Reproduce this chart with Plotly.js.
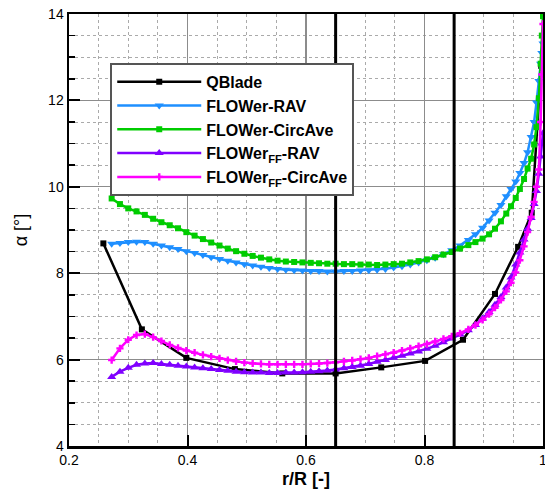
<!DOCTYPE html>
<html>
<head>
<meta charset="utf-8">
<script src="https://cdn.plot.ly/plotly-3.0.1.min.js"></script>
<style>html,body{margin:0;padding:0;background:#fff;}#chart{width:545px;height:489px;}</style>
</head>
<body>
<div id="chart"></div>
<script>
// QBlade stations and angle of attack
const rQBlade = [0.258, 0.323, 0.398, 0.480, 0.560, 0.650, 0.727, 0.801, 0.865, 0.919, 0.958, 0.981, 0.997];
const aQBlade = [8.69, 6.70, 6.04, 5.78, 5.68, 5.68, 5.82, 5.97, 6.46, 7.52, 8.61, 9.40, 12.8];

// FLOWer radial stations (shared)
const rFlower = [0.272,0.286,0.300,0.314,0.328,0.342,0.356,0.370,0.384,0.398,0.412,0.426,0.440,0.454,0.468,0.482,0.496,0.510,0.524,0.538,0.552,0.566,0.580,0.594,0.608,0.622,0.636,0.650,0.664,0.678,0.692,0.706,0.720,0.734,0.748,0.762,0.776,0.790,0.804,0.818,0.832,0.846,0.860,0.874,0.886,0.898,0.909,0.919,0.929,0.938,0.946,0.954,0.961,0.968,0.974,0.980,0.985,0.989,0.993,0.996,0.998,1.000];

const aFlowerRAV = [8.68,8.70,8.72,8.73,8.72,8.68,8.64,8.60,8.56,8.51,8.47,8.42,8.37,8.33,8.29,8.25,8.21,8.18,8.15,8.12,8.10,8.08,8.07,8.06,8.05,8.05,8.04,8.04,8.05,8.05,8.06,8.07,8.08,8.10,8.13,8.16,8.20,8.25,8.30,8.36,8.44,8.53,8.64,8.77,8.90,9.05,9.22,9.40,9.58,9.78,9.95,10.12,10.32,10.55,10.80,11.15,11.50,11.95,12.45,12.85,13.10,13.32];

const aFlowerCirc = [9.73,9.60,9.50,9.43,9.35,9.26,9.18,9.11,9.04,8.95,8.87,8.79,8.71,8.64,8.57,8.51,8.45,8.40,8.36,8.32,8.29,8.27,8.26,8.25,8.24,8.23,8.22,8.22,8.21,8.21,8.20,8.20,8.19,8.20,8.21,8.22,8.25,8.28,8.32,8.37,8.43,8.49,8.57,8.65,8.72,8.80,8.90,9.03,9.20,9.38,9.55,9.74,9.95,10.18,10.42,10.65,10.98,11.38,12.05,12.85,13.50,13.95];

const aFlowerFFRAV = [5.60,5.72,5.81,5.88,5.91,5.92,5.90,5.88,5.86,5.84,5.82,5.80,5.78,5.76,5.74,5.72,5.71,5.70,5.70,5.69,5.69,5.70,5.70,5.71,5.72,5.73,5.75,5.77,5.80,5.83,5.86,5.90,5.95,5.99,6.04,6.09,6.14,6.19,6.25,6.32,6.40,6.49,6.58,6.68,6.80,6.95,7.10,7.27,7.45,7.67,7.90,8.20,8.48,8.78,9.03,9.28,9.60,9.90,10.30,10.70,11.00,11.24];

const aFlowerFFCirc = [5.99,6.26,6.46,6.57,6.59,6.52,6.43,6.34,6.27,6.21,6.16,6.11,6.07,6.03,5.99,5.96,5.93,5.91,5.90,5.89,5.89,5.89,5.89,5.89,5.90,5.91,5.92,5.94,5.96,5.98,6.01,6.04,6.08,6.12,6.16,6.21,6.26,6.31,6.36,6.42,6.48,6.54,6.61,6.70,6.80,6.92,7.05,7.20,7.38,7.58,7.78,8.02,8.30,8.62,8.95,9.30,9.65,10.00,10.40,11.50,12.60,13.77];

const seriesNames = ['QBlade', 'FLOWer-RAV', 'FLOWer-CircAve', 'FLOWer<sub>FF</sub>-RAV', 'FLOWer<sub>FF</sub>-CircAve'];
const refLinesX = [0.65, 0.85];
const xTicks = [0.2, 0.4, 0.6, 0.8, 1.0];
const xTickText = ['0.2', '0.4', '0.6', '0.8', '1'];
const yTicks = [4, 6, 8, 10, 12, 14];

function tr(x, y, name, color, symbol, size) {
  return {
    x: x, y: y, name: name, type: 'scatter', mode: 'lines+markers',
    line: {color: color, width: 2.5},
    marker: {color: color, symbol: symbol, size: size, line: {width: 0}}
  };
}

const data = [
  tr(rQBlade, aQBlade, seriesNames[0], '#000000', 'square', 6),
  tr(rFlower, aFlowerRAV, seriesNames[1], '#1e8fff', 'triangle-down', 8),
  tr(rFlower, aFlowerCirc, seriesNames[2], '#00cc00', 'square', 6),
  tr(rFlower, aFlowerFFRAV, seriesNames[3], '#8000ff', 'triangle-up', 8),
  tr(rFlower, aFlowerFFCirc, seriesNames[4], '#ff00ff', 'cross', 6)
];

const axisFont = {family: 'Liberation Sans, Arial, sans-serif', size: 14, color: '#000'};

const layout = {
  width: 545, height: 489,
  margin: {l: 69, r: 2, t: 14, b: 43},
  paper_bgcolor: '#fff', plot_bgcolor: '#fff',
  font: axisFont,
  xaxis: {
    range: [0.2, 1.0], tickmode: 'array', tickvals: xTicks, ticktext: xTickText,
    ticks: 'inside', ticklen: 11, tickwidth: 2, tickcolor: '#000',
    ticklabeloverflow: 'allow',
    showline: true, linewidth: 2.5, linecolor: '#000', mirror: true,
    showgrid: true, gridcolor: '#8c8c8c', gridwidth: 1.2,
    zeroline: false,
    minor: {dtick: 0.05, showgrid: true, gridcolor: '#aaaaaa', griddash: 'dot', gridwidth: 1, ticks: ''},
    tickfont: axisFont,
    title: {text: '<b>r/R [-]</b>', font: {family: 'Liberation Sans, Arial, sans-serif', size: 18, color: '#000'}, standoff: 6}
  },
  yaxis: {
    range: [4, 14], tickmode: 'array', tickvals: yTicks,
    ticks: 'inside', ticklen: 11, tickwidth: 2, tickcolor: '#000',
    ticklabeloverflow: 'allow',
    showline: true, linewidth: 2.5, linecolor: '#000', mirror: true,
    showgrid: true, gridcolor: '#8c8c8c', gridwidth: 1.2,
    zeroline: false,
    minor: {dtick: 0.5, showgrid: true, gridcolor: '#aaaaaa', griddash: 'dot', gridwidth: 1, ticks: 'inside', ticklen: 6, tickwidth: 1.5, tickcolor: '#000'},
    tickfont: axisFont,
    title: {text: 'α [°]', font: {family: 'Liberation Sans, Arial, sans-serif', size: 18, color: '#000'}, standoff: 16}
  },
  shapes: refLinesX.map(function (v) {
    return {type: 'line', xref: 'x', yref: 'paper', x0: v, x1: v, y0: 0, y1: 1,
            line: {color: '#000', width: 3}, layer: 'above'};
  }),
  legend: {
    x: 0.087, y: 0.887, xanchor: 'left', yanchor: 'top',
    bgcolor: '#fff', bordercolor: '#555', borderwidth: 2,
    font: {family: 'Liberation Sans, Arial, sans-serif', size: 16, color: '#000', weight: 'bold'},
    itemwidth: 84, tracegroupgap: 0
  },
  showlegend: true
};

Plotly.newPlot('chart', data, layout, {displayModeBar: false, staticPlot: true});
</script>
</body>
</html>
